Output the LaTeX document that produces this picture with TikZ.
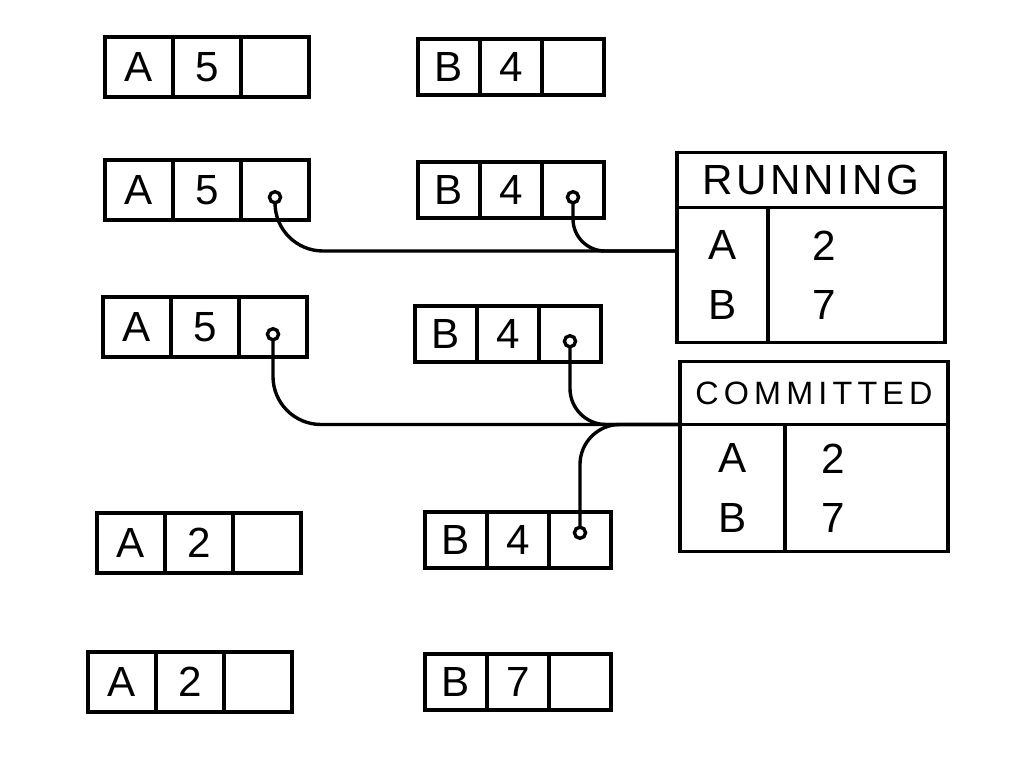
\documentclass[tikz,border=0pt]{standalone}
\usepackage{fontspec}
\setmainfont{Liberation Sans}
\usetikzlibrary{positioning, arrows}
\tikzstyle{cell} = [rectangle, 
minimum width=1.7cm, 
minimum height=1.5cm, 
outer sep=0pt, 
text centered, 
draw=black, line width=2.4pt, 
font=\fontsize{30}{34}\selectfont]
\tikzstyle{bcell} = [cell, 
minimum width=1.55cm, 
minimum height=1.4cm]
\tikzstyle{head} = [rectangle, 
minimum width=6.7cm, 
minimum height=1.375cm, 
outer sep=0pt, 
draw=black, line width=2.4pt, 
font=\fontsize{30}{34}\selectfont\addfontfeatures{LetterSpace=8}]
\tikzstyle{column} = [rectangle, 
minimum height=3.375cm, 
outer sep=0pt, 
align=center, 
draw=black, line width=2.4pt, 
font=\fontsize{30}{42}\selectfont]
\tikzstyle{link} = [line width=2.4pt, o-]

\begin{document}
\begin{tikzpicture}
    \useasboundingbox (0,0) rectangle (25.6,-19.2);
    % records A
    \node (a1k) [cell] at (3.475,-1.675) {A};
    \node (a1v) [cell, right=0pt of a1k] {5};
    \node (a1p) [cell, right=0pt of a1v] {};
    \node (a2k) [cell] at (3.475,-4.75) {A};
    \node (a2v) [cell, right=0pt of a2k] {5};
    \node (a2p) [cell, right=0pt of a2v] {};
    \node (a3k) [cell] at (3.425,-8.175) {A};
    \node (a3v) [cell, right=0pt of a3k] {5};
    \node (a3p) [cell, right=0pt of a3v] {};
    \node (a4k) [cell] at (3.275,-13.575) {A};
    \node (a4v) [cell, right=0pt of a4k] {2};
    \node (a4p) [cell, right=0pt of a4v] {};
    \node (a5k) [cell] at (3.05,-17.05) {A};
    \node (a5v) [cell, right=0pt of a5k] {2};
    \node (a5p) [cell, right=0pt of a5v] {};
    % records B
    \node (b1k) [bcell] at (11.225,-1.675) {B};
    \node (b1v) [bcell, right=0pt of b1k] {4};
    \node (b1p) [bcell, right=0pt of b1v] {};
    \node (b2k) [bcell] at (11.225,-4.75) {B};
    \node (b2v) [bcell, right=0pt of b2k] {4};
    \node (b2p) [bcell, right=0pt of b2v] {};
    \node (b3k) [bcell] at (11.15,-8.35) {B};
    \node (b3v) [bcell, right=0pt of b3k] {4};
    \node (b3p) [bcell, right=0pt of b3v] {};
    \node (b4k) [bcell] at (11.4,-13.5) {B};
    \node (b4v) [bcell, right=0pt of b4k] {4};
    \node (b4p) [bcell, right=0pt of b4v] {};
    \node (b5k) [bcell] at (11.4,-17.05) {B};
    \node (b5v) [bcell, right=0pt of b5k] {7};
    \node (b5p) [bcell, right=0pt of b5v] {};
    % tables
    \node (runhead) [head] at (20.275,-4.5) {RUNNING};
    \node (runkey) [column, minimum width=2.275cm, below right=0pt of runhead.south west] {A\\B};
    \node (runval) [column, align=left, text width=2.225cm, inner xsep=1.1cm, right=0pt of runkey] {2\\7};
    \node (comhead) [head, minimum height=1.575cm, font=\fontsize{23}{28}\selectfont\addfontfeatures{LetterSpace=16}] at (20.35,-9.825) {COMMITTED};
    \node (comkey) [column, minimum width=2.625cm, minimum height=3.175cm, below right=0pt of comhead.south west] {A\\B};
    \node (comval) [column, align=left, text width=2.275cm, inner xsep=0.9cm, minimum height=3.175cm, right=0pt of comkey] {2\\7};

    \draw [link, rounded corners=1.2cm] (a2p.center) |- ([yshift=0.6cm]runkey.west);
    \draw [link, rounded corners=0.8cm] (b2p.center) |- ([yshift=0.6cm]runkey.west);
    \draw [link, rounded corners=1.2cm] (a3p.center) |- (comkey.north west);
    \draw [link, rounded corners=0.9cm] (b3p.center) |- (comkey.north west);
    \draw [link, rounded corners=1cm] (b4p.center) |- (comkey.north west);
\end{tikzpicture}
\end{document}
